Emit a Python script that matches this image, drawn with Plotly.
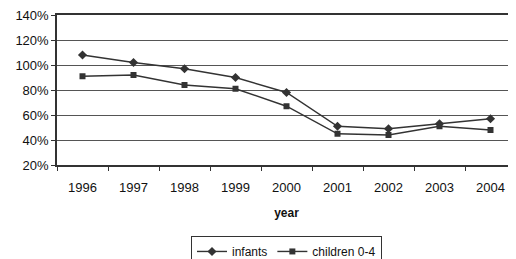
import plotly.graph_objects as go

years = ["1996", "1997", "1998", "1999", "2000", "2001", "2002", "2003", "2004"]
infants = [108, 102, 97, 90, 78, 51, 49, 53, 57]
children = [91, 92, 84, 81, 67, 45, 44, 51, 48]
y_ticks = [20, 40, 60, 80, 100, 120, 140]
y_tick_labels = ["20%", "40%", "60%", "80%", "100%", "120%", "140%"]

INK = "#333333"
FONT = "Liberation Sans, Arial, sans-serif"

fig = go.Figure()
fig.add_trace(go.Scatter(
    x=years, y=infants, name="infants", mode="lines+markers",
    line=dict(color=INK, width=1.4),
    marker=dict(symbol="diamond", size=7, color=INK),
))
fig.add_trace(go.Scatter(
    x=years, y=children, name="children 0-4", mode="lines+markers",
    line=dict(color=INK, width=1.4),
    marker=dict(symbol="square", size=6, color=INK),
))

fig.update_layout(
    width=508, height=251,
    margin=dict(l=49, r=0, t=7, b=94, autoexpand=False),
    paper_bgcolor="white", plot_bgcolor="white",
    font=dict(family=FONT, size=13, color="#111111"),
    showlegend=True,
    legend=dict(
        orientation="h", x=0.5, xanchor="center", y=-0.473, yanchor="top",
        bordercolor=INK, borderwidth=1, font=dict(size=12),
        itemwidth=30, tracegroupgap=0,
    ),
    xaxis=dict(
        type="category", range=[-0.5, 8.5], automargin=False,
        showline=True, linecolor=INK, linewidth=1.5, mirror=True,
        ticks="outside", tickson="boundaries", ticklen=4, tickcolor=INK,
        showgrid=False,
        ticklabelstandoff=10,
        title=dict(text="<b>year</b>", font=dict(size=12), standoff=14),
    ),
    yaxis=dict(
        range=[20, 140], tickvals=y_ticks, ticktext=y_tick_labels,
        automargin=False, ticklabeloverflow="allow",
        showline=True, linecolor=INK, linewidth=1.5,
        ticks="outside", ticklen=4, tickcolor=INK,
        showgrid=True, gridcolor="#555555", gridwidth=1,
        zeroline=False,
    ),
)

fig.write_html("out.html")
